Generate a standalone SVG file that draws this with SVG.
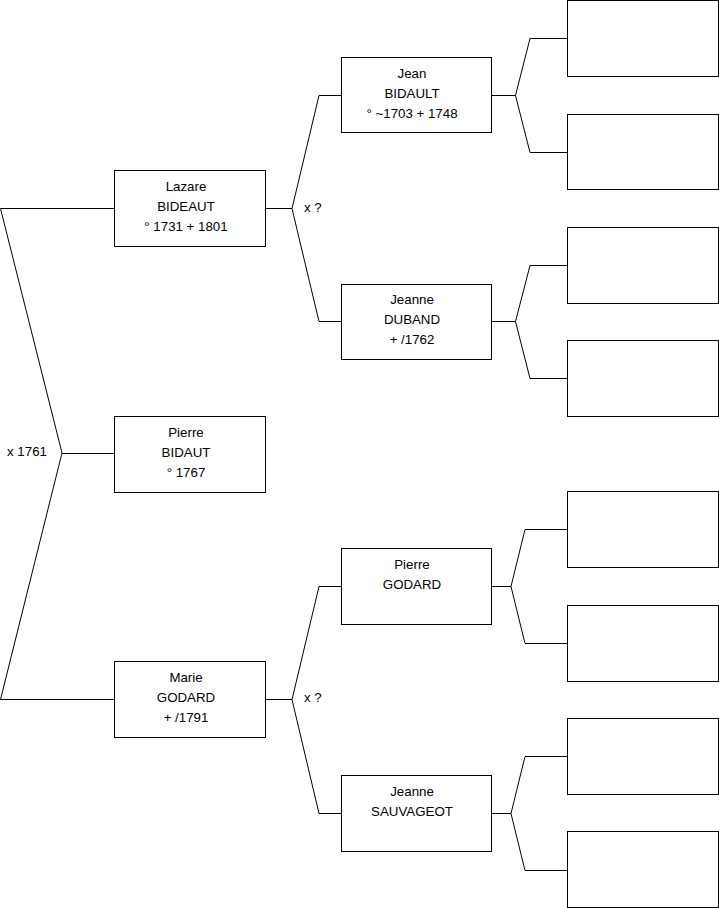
<svg xmlns="http://www.w3.org/2000/svg" width="719" height="908" viewBox="0 0 719 908">
<style>
.box{fill:#fff;stroke:#000;stroke-width:1}
.ln{fill:none;stroke:#000;stroke-width:1}
text{font-family:"Liberation Sans",Arial,sans-serif;font-size:13.3px;fill:#000}
.c{text-anchor:middle}
</style>
<rect width="719" height="908" fill="#fff"/>
<g id="connectors">
<path class="ln" d="M0.5,208.5H114.5 M0.5,208.5L62,453L0.5,699.5H114.5 M62,453.5H114.5"/>
<path class="ln" d="M265.5,208.5H292 L319,95.5H341 M292,208.5L319,321.5H341"/>
<path class="ln" d="M265.5,699.5H292 L319,586.5H341 M292,699.5L319,813.5H341"/>
<path class="ln" d="M491.5,95.5H515.5L530,38.5H567.5 M515.5,95.5L530,152.5H567.5"/>
<path class="ln" d="M491.5,321.5H515.5L530,265.5H567.5 M515.5,321.5L530,378.5H567.5"/>
<path class="ln" d="M491.5,586.5H511L525,529.5H567.5 M511,586.5L525,643.5H567.5"/>
<path class="ln" d="M491.5,813.5H511L525,756.5H567.5 M511,813.5L525,870.5H567.5"/>
<text x="7" y="456">x 1761</text>
<text x="304" y="212">x ?</text>
<text x="304" y="702">x ?</text>
</g>
<g id="lazare"><rect class="box" x="114.5" y="170.5" width="151" height="76"/>
<text class="c" x="186" y="191">Lazare</text><text class="c" x="186" y="211">BIDEAUT</text><text class="c" x="186" y="231">° 1731 + 1801</text></g>
<g id="pierre-bidaut"><rect class="box" x="114.5" y="416.5" width="151" height="76"/>
<text class="c" x="186" y="437">Pierre</text><text class="c" x="186" y="457">BIDAUT</text><text class="c" x="186" y="477">° 1767</text></g>
<g id="marie"><rect class="box" x="114.5" y="661.5" width="151" height="76"/>
<text class="c" x="186" y="682">Marie</text><text class="c" x="186" y="702">GODARD</text><text class="c" x="186" y="722">+ /1791</text></g>
<g id="jean"><rect class="box" x="341.5" y="57.5" width="150" height="75"/>
<text class="c" x="412" y="78">Jean</text><text class="c" x="412" y="98">BIDAULT</text><text class="c" x="412" y="118">° ~1703 + 1748</text></g>
<g id="jeanne-duband"><rect class="box" x="341.5" y="284.5" width="150" height="75"/>
<text class="c" x="412" y="304">Jeanne</text><text class="c" x="412" y="324">DUBAND</text><text class="c" x="412" y="344">+ /1762</text></g>
<g id="pierre-godard"><rect class="box" x="341.5" y="548.5" width="150" height="76"/>
<text class="c" x="412" y="569">Pierre</text><text class="c" x="412" y="589">GODARD</text></g>
<g id="jeanne-sauvageot"><rect class="box" x="341.5" y="775.5" width="150" height="76"/>
<text class="c" x="412" y="796">Jeanne</text><text class="c" x="412" y="816">SAUVAGEOT</text></g>
<g id="gp1"><rect class="box" x="567.5" y="0.5" width="151" height="76"/></g>
<g id="gp2"><rect class="box" x="567.5" y="114.5" width="151" height="75"/></g>
<g id="gp3"><rect class="box" x="567.5" y="227.5" width="151" height="76"/></g>
<g id="gp4"><rect class="box" x="567.5" y="340.5" width="151" height="76"/></g>
<g id="gp5"><rect class="box" x="567.5" y="491.5" width="151" height="76"/></g>
<g id="gp6"><rect class="box" x="567.5" y="605.5" width="151" height="76"/></g>
<g id="gp7"><rect class="box" x="567.5" y="718.5" width="151" height="76"/></g>
<g id="gp8"><rect class="box" x="567.5" y="831.5" width="151" height="76"/></g>
</svg>
